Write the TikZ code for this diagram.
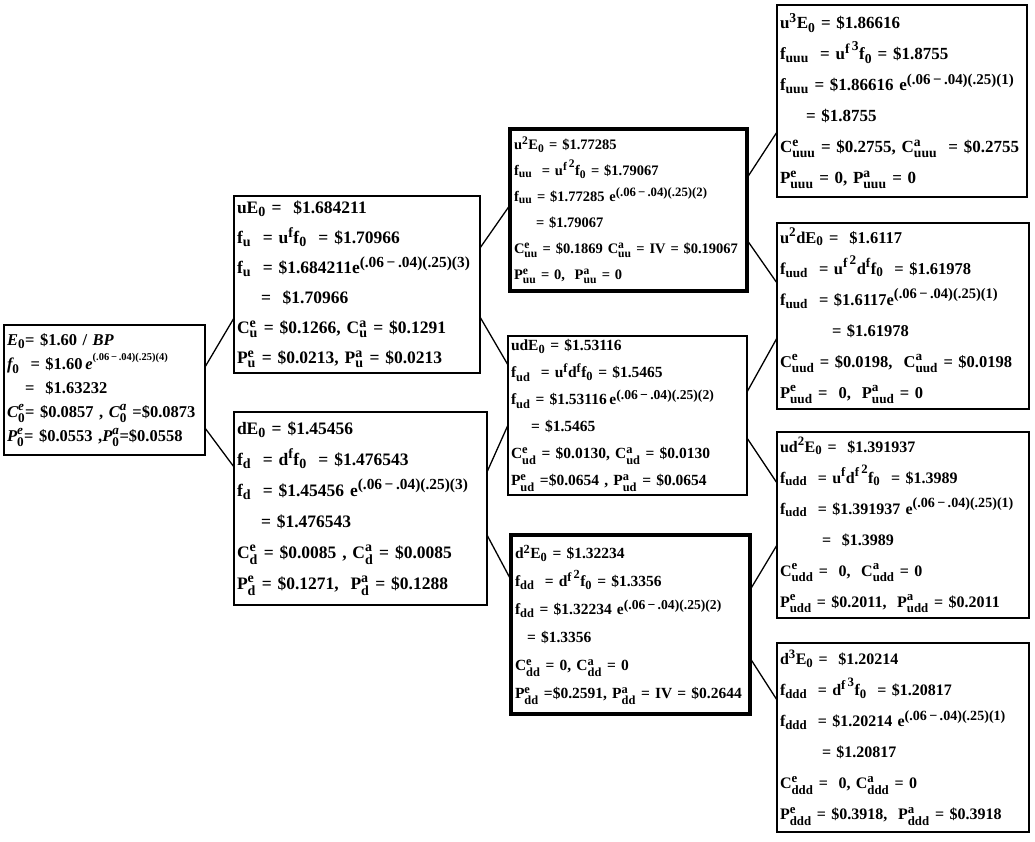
\documentclass[tikz,border=0pt]{standalone}
\usepackage{amsmath}
\usepackage{fontspec}
\setmainfont{Liberation Serif}
\usetikzlibrary{calc}
\renewcommand\defaultscriptratio{.8}
\renewcommand\defaultscriptscriptratio{.65}
\newcommand\xsub[1]{$_{\text{#1}}$}
\newcommand\xsup[1]{$^{\text{#1}}$}
\newcommand\xss[2]{$^{\text{#1}}_{\text{#2}}$}
\newcommand\xexp[1]{e$^{\text{\scalebox{1.1}{(.06\,−\,.04)(.25)(#1)}}}$}
\newcommand\fsq[1]{$^{\text{f\,\raisebox{0.5ex}{#1}}}$}
\newcommand\rit[1]{\text{\itshape #1}}
\tikzset{
  bx/.style={draw, line width=1.5pt, inner xsep=3pt, inner ysep=0pt, anchor=north west, align=left, outer sep=0pt},
  thk/.style={line width=4.5pt},
  link/.style={line width=1.3pt},
}
\begin{document}
\begin{tikzpicture}[x=1pt,y=-1pt]
\useasboundingbox (0,0) rectangle (1035,841);
\fill[white] (0,0) rectangle (1035,841);

% root
\node[bx, minimum width=201pt, minimum height=130pt, text width=195pt, font=\fontsize{16.5}{24}\selectfont\bfseries] (root) at (4,325) {%
$\rit{E}_{\text{0}}$= \$1.60 / \textit{BP}\\
$\rit{f}_{\text{0}}$ \ = \$1.60\,\textit{e}\raisebox{0.55em}{\fontsize{10.5}{11}\selectfont(.06\,−\,.04)(.25)(4)}\\
\hspace*{18pt}= \ \$1.63232\\
$\rit{C}^{\rit{e}}_{\text{0}}$= \$0.0857 , $\rit{C}^{\rit{a}}_{\text{0}}$ =\$0.0873\\
$\rit{P}^{\rit{e}}_{\text{0}}$= \$0.0553 ,$\rit{P}^{\rit{a}}_{\text{0}}$=\$0.0558};

% level 1
\node[bx, minimum width=246pt, minimum height=177pt, text width=240pt, font=\fontsize{17.5}{30}\selectfont\bfseries] (uE) at (234,196) {%
uE\xsub{0} = \ \$1.684211\\
f\xsub{u} \ = u\xsup{f}f\xsub{0} \ = \$1.70966\\
f\xsub{u} \ = \$1.684211\xexp{3}\\
\hspace*{24pt}= \ \$1.70966\\
C\xss{e}{u} = \$0.1266, C\xss{a}{u} = \$0.1291\\
P\xss{e}{u} = \$0.0213, P\xss{a}{u} = \$0.0213};

\node[bx, minimum width=253pt, minimum height=193pt, text width=247pt, font=\fontsize{17.5}{31}\selectfont\bfseries] (dE) at (234,412) {%
dE\xsub{0} = \$1.45456\\
f\xsub{d} \ = d\xsup{f}f\xsub{0} \ = \$1.476543\\
f\xsub{d} \ = \$1.45456 \xexp{3}\\
\hspace*{24pt}= \$1.476543\\
C\xss{e}{d} = \$0.0085 , C\xss{a}{d} = \$0.0085\\
P\xss{e}{d} = \$0.1271, \ P\xss{a}{d} = \$0.1288};

% level 2
\node[bx, thk, minimum width=237pt, minimum height=162pt, text width=229pt, font=\fontsize{14.5}{26}\selectfont\bfseries] (uu) at (510,129) {%
u\xsup{2}E\xsub{0} = \$1.77285\\
f\xsub{uu} \ = u\fsq{2}f\xsub{0} = \$1.79067\\
f\xsub{uu} = \$1.77285 \xexp{2}\\
\hspace*{22pt}= \$1.79067\\
C\xss{e}{uu} = \$0.1869 C\xss{a}{uu} = IV = \$0.19067\\
P\xss{e}{uu} = 0, \ P\xss{a}{uu} = 0};

\node[bx, minimum width=239pt, minimum height=159pt, text width=233pt, font=\fontsize{15.5}{27}\selectfont\bfseries] (ud) at (508,336) {%
udE\xsub{0} = \$1.53116\\
f\xsub{ud} \ = u\xsup{f}d\xsup{f}f\xsub{0} = \$1.5465\\
f\xsub{ud} = \$1.53116\,\xexp{2}\\
\hspace*{20pt}= \$1.5465\\
C\xss{e}{ud} = \$0.0130, C\xss{a}{ud} = \$0.0130\\
P\xss{e}{ud} =\$0.0654 , P\xss{a}{ud} = \$0.0654};

\node[bx, thk, minimum width=239pt, minimum height=179pt, text width=231pt, font=\fontsize{15.5}{28}\selectfont\bfseries] (dd) at (511,535) {%
d\xsup{2}E\xsub{0} = \$1.32234\\
f\xsub{dd} \ = d\fsq{2}f\xsub{0} = \$1.3356\\
f\xsub{dd} = \$1.32234 \xexp{2}\\
\hspace*{12pt}= \$1.3356\\
C\xss{e}{dd} = 0, C\xss{a}{dd} = 0\\
P\xss{e}{dd} =\$0.2591, P\xss{a}{dd} = IV = \$0.2644};

% level 3
\node[bx, minimum width=250pt, minimum height=192pt, text width=244pt, font=\fontsize{17}{31}\selectfont\bfseries] (uuu) at (777,5) {%
u\xsup{3}E\xsub{0} = \$1.86616\\
f\xsub{uuu} \ = u\fsq{3}f\xsub{0} = \$1.8755\\
f\xsub{uuu} = \$1.86616 \xexp{1}\\
\hspace*{26pt}= \$1.8755\\
C\xss{e}{uuu} = \$0.2755, C\xss{a}{uuu} \ = \$0.2755\\
P\xss{e}{uuu} = 0, P\xss{a}{uuu} = 0};

\node[bx, minimum width=252pt, minimum height=186pt, text width=246pt, font=\fontsize{16.5}{31}\selectfont\bfseries] (uud) at (777,223) {%
u\xsup{2}dE\xsub{0} = \ \$1.6117\\
f\xsub{uud} \ = u\fsq{2}d\xsup{f}f\xsub{0} \ = \$1.61978\\
f\xsub{uud} \ = \$1.6117\xexp{1}\\
\hspace*{52pt}= \$1.61978\\
C\xss{e}{uud} = \$0.0198, \ C\xss{a}{uud} = \$0.0198\\
P\xss{e}{uud} = \ 0, \ P\xss{a}{uud} = 0};

\node[bx, minimum width=252pt, minimum height=186pt, text width=246pt, font=\fontsize{16}{31}\selectfont\bfseries] (udd) at (777,432) {%
ud\xsup{2}E\xsub{0} = \ \$1.391937\\
f\xsub{udd} \ = u\xsup{f}d\fsq{2}f\xsub{0} \ = \$1.3989\\
f\xsub{udd} \ = \$1.391937 \xexp{1}\\
\hspace*{42pt}= \ \$1.3989\\
C\xss{e}{udd} = \ 0, \ C\xss{a}{udd} = 0\\
P\xss{e}{udd} = \$0.2011, \ P\xss{a}{udd} = \$0.2011};

\node[bx, minimum width=252pt, minimum height=189pt, text width=246pt, font=\fontsize{16}{31}\selectfont\bfseries] (ddd) at (777,643) {%
d\xsup{3}E\xsub{0} = \ \$1.20214\\
f\xsub{ddd} \ = d\fsq{3}f\xsub{0} \ = \$1.20817\\
f\xsub{ddd} \ = \$1.20214 \xexp{1}\\
\hspace*{42pt}= \$1.20817\\
C\xss{e}{ddd} = \ 0, C\xss{a}{ddd} = 0\\
P\xss{e}{ddd} = \$0.3918, \ P\xss{a}{ddd} = \$0.3918};

% connectors
\draw[link] ($(root.north east)+(0,42)$) -- ($(uE.north west)+(0,122)$);
\draw[link] ($(root.north east)+(0,103)$) -- ($(dE.north west)+(0,55)$);
\draw[link] ($(uE.north east)+(0,52)$) -- ($(uu.north west)+(0,76)$);
\draw[link] ($(uE.north east)+(0,121)$) -- ($(ud.north west)+(0,29)$);
\draw[link] ($(dE.north east)+(0,60)$) -- ($(ud.north west)+(0,89)$);
\draw[link] ($(dE.north east)+(0,123)$) -- ($(dd.north west)+(0,45)$);
\draw[link] ($(uu.north east)+(0,49)$) -- ($(uuu.north west)+(0,127)$);
\draw[link] ($(uu.north east)+(0,111)$) -- ($(uud.north west)+(0,60)$);
\draw[link] ($(ud.north east)+(0,56)$) -- ($(uud.north west)+(0,115)$);
\draw[link] ($(ud.north east)+(0,102)$) -- ($(udd.north west)+(0,51)$);
\draw[link] ($(dd.north east)+(0,55)$) -- ($(udd.north west)+(0,113)$);
\draw[link] ($(dd.north east)+(0,123)$) -- ($(ddd.north west)+(0,57)$);
\end{tikzpicture}
\end{document}
